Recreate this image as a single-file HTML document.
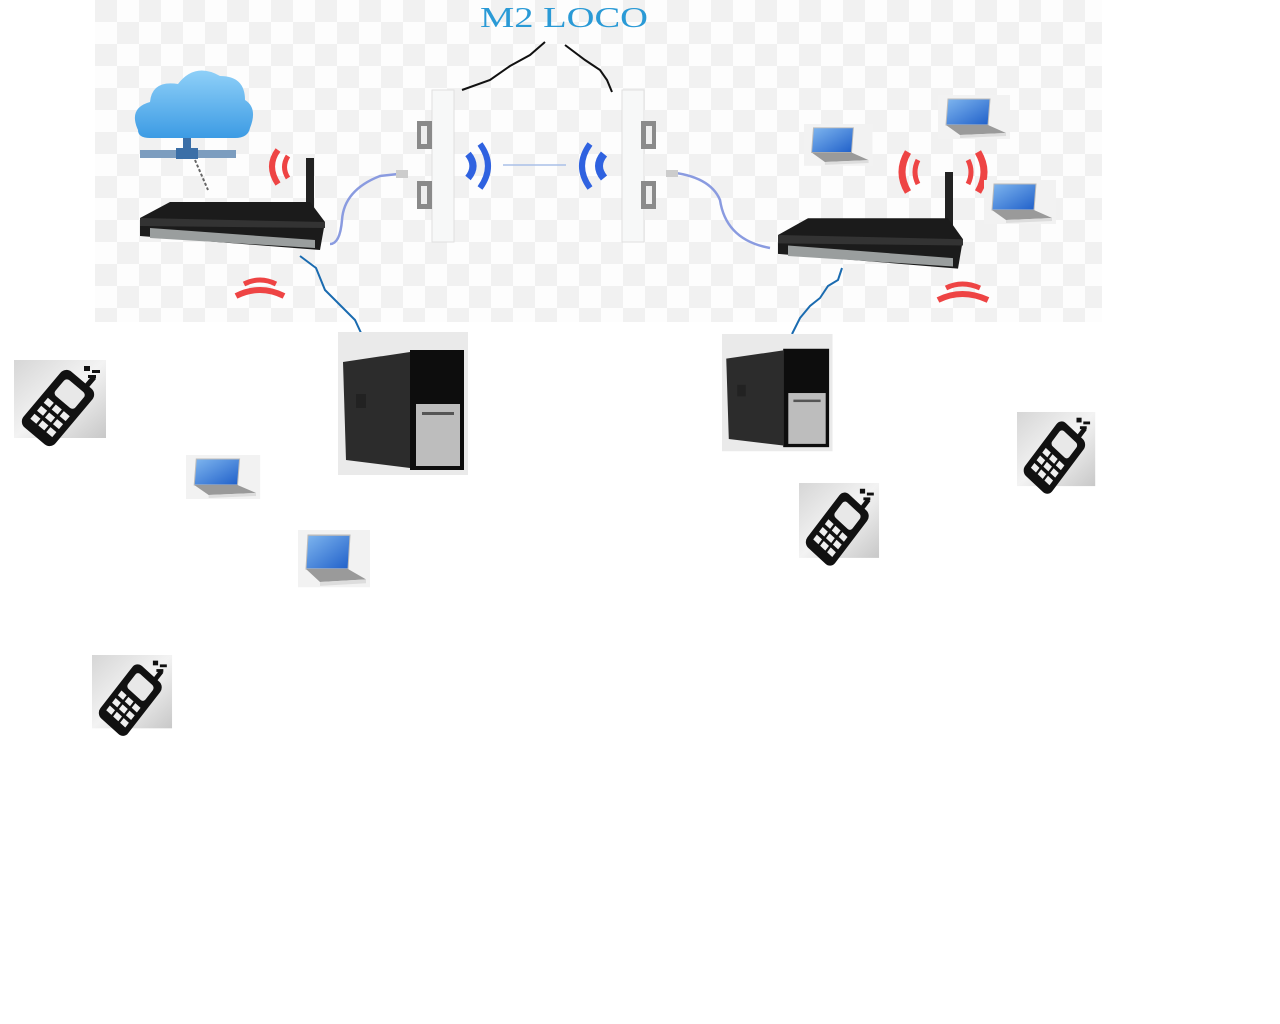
<!DOCTYPE html>
<html><head><meta charset="utf-8"><style>
html,body{margin:0;padding:0;background:#fff;width:1280px;height:1024px;overflow:hidden}
svg{display:block}
</style></head><body>
<svg width="1280" height="1024" viewBox="0 0 1280 1024" xmlns="http://www.w3.org/2000/svg">
<defs>
<pattern id="chk" x="95" y="0" width="44" height="44" patternUnits="userSpaceOnUse">
<rect width="44" height="44" fill="#fdfdfd"/>
<rect width="22" height="22" fill="#f1f1f1"/>
<rect x="22" y="22" width="22" height="22" fill="#f1f1f1"/>
</pattern>
<linearGradient id="pg" x1="0" y1="0" x2="1" y2="1">
<stop offset="0" stop-color="#d6d6d6"/><stop offset="0.5" stop-color="#f3f3f3"/><stop offset="1" stop-color="#c8c8c8"/>
</linearGradient>
<linearGradient id="scr" x1="0" y1="0" x2="1" y2="1">
<stop offset="0" stop-color="#7fb6ef"/><stop offset="1" stop-color="#1f5fc9"/>
</linearGradient>
<linearGradient id="cl" x1="0" y1="0" x2="0" y2="1">
<stop offset="0" stop-color="#8fd0f8"/><stop offset="1" stop-color="#3c9be4"/>
</linearGradient>
<g id="phone">
<rect x="0" y="0" width="92" height="78" fill="url(#pg)"/>
<g transform="translate(44,48) rotate(40) scale(1.3)">
<rect x="-16" y="-28" width="32" height="56" rx="6" fill="#111"/>
<rect x="-10" y="-22" width="20" height="16" rx="3" fill="#e8e8e8"/>
<g fill="#eee">
<rect x="-11" y="-1" width="6" height="5"/><rect x="-3" y="-1" width="6" height="5"/><rect x="5" y="-1" width="6" height="5"/>
<rect x="-11" y="7" width="6" height="5"/><rect x="-3" y="7" width="6" height="5"/><rect x="5" y="7" width="6" height="5"/>
<rect x="-11" y="15" width="6" height="5"/><rect x="-3" y="15" width="6" height="5"/><rect x="5" y="15" width="6" height="5"/>
</g>
<rect x="4" y="-36" width="4" height="9" fill="#111"/>
</g>
<rect x="70" y="6" width="6" height="5" fill="#111"/><rect x="78" y="10" width="8" height="3" fill="#111"/><rect x="74" y="15" width="8" height="3" fill="#111"/>
</g>
<g id="laptop">
<rect x="0" y="0" width="72" height="44" fill="#f2f2f2"/>
<polygon points="10,4 52,4 50,30 8,30" fill="url(#scr)" stroke="#bbb"/>
<polygon points="8,30 50,30 68,38 22,40" fill="#9a9a9a"/>
<polygon points="22,40 68,38 68,41 22,43" fill="#ddd"/>
</g>
<g id="pc">
<rect x="0" y="0" width="130" height="143" fill="#eaeaea"/>
<polygon points="5,30 72,20 72,136 8,128" fill="#2c2c2c"/>
<rect x="72" y="18" width="54" height="120" fill="#0d0d0d"/>
<rect x="78" y="72" width="44" height="62" fill="#bdbdbd"/>
<rect x="84" y="80" width="32" height="3" fill="#555"/>
<rect x="18" y="62" width="10" height="14" fill="#222"/>
</g>
<g id="router">
<polygon points="10,20 40,4 180,4 195,24 190,52 10,38" fill="#1b1b1b"/>
<polygon points="20,30 185,42 185,50 20,40" fill="#9a9e9e"/>
<polygon points="10,20 195,24 195,30 10,28" fill="#333"/>
</g>
</defs>

<rect x="95" y="0" width="1007" height="322" fill="url(#chk)"/>

<text x="480" y="27" font-family="Liberation Serif, serif" font-size="29" fill="#2a9ad6" textLength="168" lengthAdjust="spacingAndGlyphs">M2 LOCO</text>
<polyline points="462,90 490,80 510,66 530,55 545,42" fill="none" stroke="#111" stroke-width="2"/>
<polyline points="565,45 585,60 600,70 607,80 612,92" fill="none" stroke="#111" stroke-width="2"/>

<path d="M138,130 Q128,108 150,102 Q152,80 178,84 Q195,62 220,76 Q245,76 245,100 Q258,108 250,128 Q248,138 235,138 L150,138 Q138,138 138,130 Z" fill="url(#cl)"/>
<rect x="183" y="138" width="8" height="12" fill="#3b6fa7"/>
<rect x="140" y="150" width="96" height="8" fill="#7c9dbf"/>
<rect x="176" y="148" width="22" height="11" fill="#3b6fa7"/>
<line x1="195" y1="160" x2="208" y2="190" stroke="#666" stroke-width="2" stroke-dasharray="3,2"/>

<rect x="306" y="158" width="8" height="80" fill="#222"/>
<use href="#router" transform="translate(130,198)"/>
<path d="M278,150 Q266,166 278,184" fill="none" stroke="#ee4444" stroke-width="6"/>
<path d="M288,156 Q281,167 288,178" fill="none" stroke="#ee4444" stroke-width="5"/>
<path d="M236,296 Q260,284 284,296" fill="none" stroke="#ee4444" stroke-width="6"/>
<path d="M244,284 Q260,276 276,284" fill="none" stroke="#ee4444" stroke-width="5"/>
<path d="M330,244 Q340,244 342,220 Q344,190 380,176 L398,174" fill="none" stroke="#8a9be0" stroke-width="2.5"/>
<rect x="396" y="170" width="12" height="8" fill="#ccc"/>
<polyline points="300,256 316,268 325,290 340,305 355,320 368,348" fill="none" stroke="#1a6bb0" stroke-width="2"/>

<rect x="432" y="90" width="22" height="152" fill="#f7f8f8" stroke="#e0e0e0"/>
<rect x="417" y="121" width="15" height="28" fill="#8a8a8a"/><rect x="421" y="126" width="6" height="18" fill="#eee"/>
<rect x="417" y="181" width="15" height="28" fill="#8a8a8a"/><rect x="421" y="186" width="6" height="18" fill="#eee"/>
<rect x="622" y="90" width="22" height="152" fill="#f7f8f8" stroke="#e0e0e0"/>
<rect x="641" y="121" width="15" height="28" fill="#8a8a8a"/><rect x="646" y="126" width="6" height="18" fill="#eee"/>
<rect x="641" y="181" width="15" height="28" fill="#8a8a8a"/><rect x="646" y="186" width="6" height="18" fill="#eee"/>
<path d="M468,154 Q478,166 468,178" fill="none" stroke="#2f62e0" stroke-width="7"/>
<path d="M480,144 Q496,166 480,188" fill="none" stroke="#2f62e0" stroke-width="6"/>
<path d="M604,154 Q594,166 604,178" fill="none" stroke="#2f62e0" stroke-width="8"/>
<path d="M590,144 Q574,166 590,188" fill="none" stroke="#2f62e0" stroke-width="6"/>
<line x1="503" y1="165" x2="566" y2="165" stroke="#a9c0e8" stroke-width="1.5"/>

<rect x="945" y="172" width="8" height="70" fill="#222"/>
<use href="#router" transform="translate(768,214) scale(1,1.05)"/>
<path d="M668,172 Q710,176 720,200 Q726,240 770,248" fill="none" stroke="#8a9be0" stroke-width="2.5"/>
<rect x="666" y="170" width="12" height="7" fill="#ccc"/>
<polyline points="842,268 838,280 828,286 820,298 810,306 800,318 792,334" fill="none" stroke="#1a6bb0" stroke-width="2"/>
<path d="M908,152 Q896,172 908,192" fill="none" stroke="#ee4444" stroke-width="7"/>
<path d="M918,160 Q912,172 918,184" fill="none" stroke="#ee4444" stroke-width="5"/>
<path d="M978,152 Q990,172 978,192" fill="none" stroke="#ee4444" stroke-width="7"/>
<path d="M968,160 Q974,172 968,184" fill="none" stroke="#ee4444" stroke-width="5"/>
<path d="M938,300 Q962,288 988,300" fill="none" stroke="#ee4444" stroke-width="6"/>
<path d="M946,288 Q962,280 980,288" fill="none" stroke="#ee4444" stroke-width="5"/>

<use href="#laptop" transform="translate(804,124) scale(0.95)"/>
<use href="#laptop" transform="translate(938,95) scale(1)"/>
<use href="#laptop" transform="translate(984,180) scale(1)"/>
<use href="#laptop" transform="translate(186,455) scale(1.03,1)"/>
<use href="#laptop" transform="translate(298,530) scale(1,1.3)"/>

<use href="#pc" transform="translate(338,332)"/>
<use href="#pc" transform="translate(722,334) scale(0.85,0.82)"/>

<use href="#phone" transform="translate(14,360)"/>
<use href="#phone" transform="translate(92,655) scale(0.87,0.94)"/>
<use href="#phone" transform="translate(799,483) scale(0.87,0.96)"/>
<use href="#phone" transform="translate(1017,412) scale(0.85,0.95)"/>
</svg>
</body></html>
